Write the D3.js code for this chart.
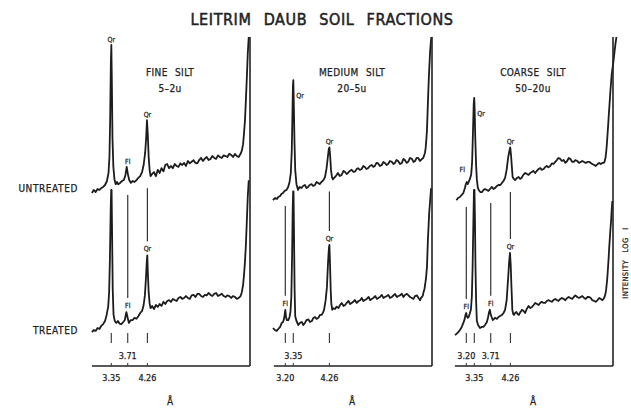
<!DOCTYPE html>
<html>
<head>
<meta charset="utf-8">
<script src="https://cdn.jsdelivr.net/npm/d3@7"></script>
<style>
  body { margin: 0; background: #fff; }
  svg { display: block; }
  text { font-family: "DejaVu Sans Condensed", "DejaVu Sans", sans-serif; fill: #222; stroke: #222; stroke-width: 0.25px; }
</style>
</head>
<body>
<div id="chart"></div>
<script>
// Leitrim daub soil fractions - X-ray diffraction traces, 2-theta (CuKa) vs intensity
const panelNames = ["FINE SILT", "MEDIUM SILT", "COARSE SILT"];
const panelSizes = ["5\u20132u", "20\u20135u", "50\u201320u"];
const rowNames = ["UNTREATED", "TREATED"];

// [2theta, relative intensity]
const fineUntreated = [[29.7,7.5],[29.4,9.4],[29.1,8.1],[28.8,10],[28.5,9.4],[28.2,10.6],[27.9,11.3],[27.6,12.5],[27.3,15],[27.05,20],[26.9,30],[26.78,55],[26.68,88],[26.6,100],[26.52,78],[26.42,42],[26.28,24],[26.1,16],[25.9,13],[25.7,14.4],[25.5,13],[25.2,13.8],[24.9,15],[24.6,15.6],[24.35,18.8],[24.15,23.8],[23.95,19],[23.75,15.6],[23.5,13.8],[23.2,15],[22.9,14.4],[22.6,15.6],[22.3,16.9],[22.0,18],[21.7,20.6],[21.45,25],[21.2,33],[21.05,42],[20.92,53],[20.8,45],[20.65,30],[20.5,22],[20.35,18],[20.1,19.4],[19.8,20.6],[19.5,18],[19.2,22],[18.9,20],[18.6,23],[18.3,21],[18.0,25],[17.7,25.6],[17.4,23],[17.1,24.4],[16.8,23],[16.5,25.6],[16.2,24.4],[15.9,23.8],[15.6,26],[15.3,25],[15.0,26.3],[14.7,24.4],[14.4,27.5],[14.1,26],[13.8,27],[13.5,28],[13.2,26.3],[12.9,26],[12.6,28.1],[12.3,29.4],[12.0,27.5],[11.7,29],[11.4,30],[11.1,28.1],[10.8,28.8],[10.5,30.6],[10.2,29.4],[9.9,28.8],[9.6,31],[9.3,30],[9.0,29.4],[8.7,31],[8.4,30.6],[8.1,30],[7.8,32],[7.5,31.3],[7.2,30],[6.9,31.9],[6.6,30.6],[6.3,30],[6.0,32],[5.8,34],[5.6,38],[5.45,45],[5.3,53],[5.15,66],[5.0,80],[4.85,95],[4.7,105]];
const fineTreated = [[29.7,8],[29.4,9.4],[29.1,8.8],[28.8,10.6],[28.5,10],[28.2,12],[27.9,13.1],[27.6,15],[27.35,18.8],[27.1,24],[26.95,33],[26.82,55],[26.7,85],[26.62,97],[26.56,97],[26.48,70],[26.38,35],[26.25,19],[26.05,15],[25.8,13.8],[25.55,15],[25.3,13.4],[25.0,13],[24.7,14.4],[24.45,15.6],[24.2,20.6],[24.0,17],[23.8,13.8],[23.5,15.6],[23.2,15.6],[22.9,17],[22.6,16.4],[22.3,18],[22.0,20],[21.7,21.3],[21.45,25],[21.25,31],[21.08,42],[20.95,52],[20.87,56],[20.78,45],[20.65,33],[20.5,26],[20.35,23],[20.1,24.4],[19.8,22.5],[19.5,25],[19.2,23.8],[18.9,25.6],[18.6,24.4],[18.3,27],[18.0,25.6],[17.7,27.5],[17.4,28],[17.1,26.9],[16.8,28.8],[16.5,28.1],[16.2,27.5],[15.9,29.4],[15.6,30],[15.3,28.8],[15.0,29.4],[14.7,30.6],[14.4,29.4],[14.1,28.8],[13.8,31],[13.5,31.3],[13.2,30],[12.9,31.9],[12.6,32],[12.3,30.6],[12.0,30],[11.7,31.3],[11.4,31],[11.1,32.5],[10.8,31.3],[10.5,30.6],[10.2,32],[9.9,32.5],[9.6,30.6],[9.3,31.3],[9.0,32],[8.7,30.6],[8.4,30],[8.1,31],[7.8,30.6],[7.5,29.4],[7.2,30.6],[6.9,30],[6.6,28.8],[6.3,29.4],[6.0,30.6],[5.8,33],[5.6,37.5],[5.45,44],[5.3,52],[5.15,63],[5.0,78],[4.85,93],[4.7,103]];
const mediumUntreated = [[29.85,3],[29.5,4.4],[29.2,3.8],[29.0,5],[28.7,5.6],[28.5,6.9],[28.25,7.5],[28.0,8.8],[27.7,9.4],[27.45,11],[27.2,14.4],[27.0,20],[26.85,34],[26.75,55],[26.66,75],[26.6,78],[26.52,62],[26.42,40],[26.3,22],[26.1,13],[25.85,9.4],[25.6,11.3],[25.3,10.6],[25.05,11.9],[24.75,12.5],[24.5,10.6],[24.25,11.3],[24.0,12.5],[23.7,13],[23.45,11.9],[23.15,12.5],[22.9,14.4],[22.65,13.8],[22.4,13.1],[22.1,14.4],[21.8,15.6],[21.55,17.5],[21.3,23],[21.1,30],[20.95,35],[20.85,36],[20.72,30],[20.6,22],[20.45,17.5],[20.3,16],[20.1,16.9],[19.95,17.5],[19.7,18.8],[19.5,20],[19.2,18.1],[18.9,18.8],[18.6,21.3],[18.35,20.6],[18.1,19.4],[17.9,20],[17.6,21.3],[17.3,22],[17.0,20.6],[16.75,21],[16.5,22.5],[16.3,23],[16.0,21.9],[15.7,22.5],[15.45,24.4],[15.2,23.8],[14.95,22.5],[14.7,23],[14.4,24.4],[14.1,25],[13.85,23.8],[13.6,24.4],[13.35,26.3],[13.1,26],[12.8,24.4],[12.5,25],[12.25,26.9],[12.0,26.3],[11.75,25],[11.5,25.6],[11.2,27.5],[10.9,27],[10.65,25.6],[10.4,26.3],[10.15,28.1],[9.9,27.5],[9.6,25.6],[9.3,26.3],[9.05,28.8],[8.8,28],[8.55,26.3],[8.3,27],[8.0,29.4],[7.7,28.8],[7.45,26.9],[7.2,27.5],[6.95,29.4],[6.7,29.4],[6.4,27.5],[6.1,28.8],[5.9,29.4],[5.75,31],[5.6,33],[5.5,36],[5.4,41],[5.3,47],[5.15,64],[5.05,75],[4.95,84],[4.8,96],[4.7,101],[4.6,105]];
const mediumTreated = [[29.85,10.6],[29.55,9.4],[29.25,8.8],[29.0,10],[28.7,11.3],[28.45,13.8],[28.25,14.4],[28.1,16],[27.98,19],[27.88,22],[27.78,18],[27.65,15.6],[27.4,15.6],[27.2,17.5],[27.05,21],[26.92,30],[26.8,55],[26.7,85],[26.63,96],[26.57,96],[26.5,72],[26.4,35],[26.3,18],[26.1,15],[25.8,12.5],[25.55,13.8],[25.25,14.4],[25.0,12.5],[24.75,13.8],[24.5,15.6],[24.2,16],[23.95,14.4],[23.65,15],[23.4,16.9],[23.15,17.5],[22.9,16.3],[22.6,17],[22.35,18.8],[22.1,18.8],[21.9,20],[21.7,22],[21.45,28],[21.25,36],[21.05,53],[20.92,61],[20.85,62.5],[20.75,50],[20.65,35],[20.55,26],[20.4,22],[20.2,23],[19.95,22.5],[19.7,24],[19.4,23.1],[19.15,25],[18.9,26.3],[18.6,24.4],[18.35,25],[18.1,26.3],[17.8,27.5],[17.55,25.6],[17.3,26.3],[17.05,27],[16.8,28.1],[16.5,26.3],[16.2,27.5],[15.95,28],[15.7,29.4],[15.45,27.5],[15.2,28.1],[14.9,28.8],[14.6,30],[14.35,28],[14.1,28.8],[13.85,29.4],[13.55,30.6],[13.3,28.8],[13.05,29.4],[12.8,30],[12.5,31.3],[12.25,29.4],[12.0,30],[11.7,30.6],[11.45,31.3],[11.2,29.4],[10.9,30],[10.65,31],[10.4,31.9],[10.1,30],[9.85,30.6],[9.6,31],[9.3,32],[9.05,30],[8.8,31.3],[8.5,32],[8.25,31],[8.0,30],[7.7,29.4],[7.45,28.8],[7.2,30.6],[6.9,31],[6.65,29.4],[6.4,28],[6.25,29.4],[6.1,30],[5.95,31],[5.85,33],[5.7,35],[5.6,37.5],[5.45,42],[5.3,49],[5.15,66],[5.05,74],[4.95,82.5],[4.8,90],[4.65,98]];
const coarseUntreated = [[29.45,3],[29.2,4.4],[28.9,5],[28.6,6.3],[28.35,7.5],[28.1,10.6],[27.95,13.1],[27.8,14.4],[27.65,13.1],[27.5,14.4],[27.3,16.3],[27.1,19],[26.95,27],[26.82,45],[26.7,63],[26.62,67],[26.55,60],[26.45,42],[26.32,25],[26.2,16],[26.05,11],[25.9,9.4],[25.65,8.1],[25.4,8],[25.15,9.4],[24.9,10],[24.6,9.4],[24.35,8.8],[24.1,10],[23.8,11.3],[23.55,10],[23.3,10.6],[23.0,11.9],[22.75,12.5],[22.45,12.5],[22.2,13.8],[21.95,15],[21.7,17],[21.45,22],[21.2,30],[21.0,34],[20.88,36],[20.75,31],[20.62,24],[20.5,17.5],[20.3,16.3],[20.1,15.6],[19.8,16.9],[19.55,17.5],[19.3,16.3],[19.05,17],[18.8,18.8],[18.5,20],[18.2,19.4],[17.95,18.8],[17.7,20],[17.45,20.6],[17.2,21.3],[16.9,20],[16.65,21.3],[16.35,22.5],[16.1,23.1],[15.85,22],[15.55,22.5],[15.3,23.8],[15.05,24.4],[14.8,23.5],[14.5,24.4],[14.25,26],[14.0,25.6],[13.7,27],[13.45,28.1],[13.2,29.4],[12.9,28.8],[12.65,27.5],[12.35,28.1],[12.1,26.3],[11.8,27.5],[11.55,29.4],[11.3,28.8],[11.0,27],[10.75,26.9],[10.5,28],[10.2,27.5],[9.9,26.3],[9.65,26.9],[9.4,27.5],[9.1,26.9],[8.85,26.3],[8.55,26.9],[8.3,27],[8.05,26.3],[7.8,25.6],[7.5,25],[7.25,24.4],[6.95,25.6],[6.7,26.3],[6.45,25.6],[6.2,26.3],[6.0,26.3],[5.85,27],[5.7,29.4],[5.6,32.5],[5.5,37],[5.4,42.5],[5.25,51],[5.15,57.5],[5.0,66],[4.9,72],[4.7,82],[4.45,89],[4.25,96],[4.1,101],[3.95,105]];
const coarseTreated = [[29.7,6.3],[29.45,6.9],[29.15,8],[28.9,9.4],[28.6,11.3],[28.35,13.8],[28.15,16],[28.0,19],[27.9,20],[27.8,18.1],[27.65,17],[27.5,17.5],[27.35,19.4],[27.15,22],[27.0,30],[26.88,48],[26.76,75],[26.66,97],[26.58,97],[26.5,78],[26.42,50],[26.32,28],[26.2,15],[26.0,12.5],[25.7,10.6],[25.45,11.3],[25.15,11.3],[24.9,12.5],[24.6,14.4],[24.4,17.5],[24.25,20.6],[24.12,22],[24.0,19.4],[23.85,17.5],[23.65,15.6],[23.45,16.3],[23.3,17],[23.0,16.3],[22.75,17.5],[22.5,18.1],[22.2,18.8],[21.95,20],[21.7,22],[21.45,28],[21.2,42.5],[21.05,52],[20.92,57.5],[20.8,50],[20.7,38],[20.6,28],[20.55,22],[20.4,19.4],[20.3,18.8],[20.1,20],[19.9,20.6],[19.7,19.4],[19.5,18.8],[19.25,20.6],[19.0,22],[18.75,21.3],[18.5,20],[18.25,22.5],[17.95,24.4],[17.7,23.1],[17.4,23.8],[17.15,25],[16.9,26.3],[16.6,25.6],[16.35,25],[16.1,26.3],[15.85,27],[15.55,26.3],[15.3,26.3],[15.05,27.5],[14.8,28],[14.5,27.5],[14.25,27],[14.0,28.1],[13.7,28.8],[13.45,28.1],[13.2,27.5],[12.9,28.8],[12.65,29.4],[12.35,28.8],[12.1,28],[11.8,29.4],[11.55,30],[11.3,29.4],[11.0,28.8],[10.75,30],[10.5,31],[10.2,30],[9.9,29.4],[9.65,30],[9.4,30.6],[9.1,29.4],[8.85,28.8],[8.55,30],[8.3,30],[8.05,29.4],[7.8,28],[7.5,27.5],[7.25,27],[6.95,28.1],[6.7,29.4],[6.45,28.8],[6.2,28],[6.0,28.8],[5.85,30],[5.7,32],[5.6,34.4],[5.45,40],[5.35,45],[5.2,54],[5.1,61],[4.95,70],[4.8,78],[4.7,85],[4.6,90]];

// peak labels (d-spacing in angstrom)
const untreatedNotes = [
  [{d: 3.35, t: "Qr", at: "top"}, {d: 3.71, t: "Fl", at: "top"}, {d: 4.26, t: "Qr", at: "top"}],
  [{d: 3.35, t: "Qr", at: "right"}, {d: 4.26, t: "Qr", at: "top"}],
  [{d: 3.20, t: "Fl", at: "left"}, {d: 3.35, t: "Qr", at: "right"}, {d: 4.26, t: "Qr", at: "top"}]
];
const treatedNotes = [
  [{d: 3.71, t: "Fl"}, {d: 4.26, t: "Qr"}],
  [{d: 3.20, t: "Fl"}, {d: 4.26, t: "Qr"}],
  [{d: 3.20, t: "Fl"}, {d: 3.71, t: "Fl"}, {d: 4.26, t: "Qr"}]
];
const peakTicks = [[3.35, 3.71, 4.26], [3.20, 3.35, 4.26], [3.20, 3.35, 3.71, 4.26]];
const upperLabels = [["3.71"], ["3.35"], ["3.20", "3.71"]];
const axisLabels = [["3.35", "4.26"], ["3.20", "4.26"], ["3.35", "4.26"]];

const traces = [
  [fineUntreated, fineTreated],
  [mediumUntreated, mediumTreated],
  [coarseUntreated, coarseTreated]
];

const W = 631, H = 408;
const panelLeft = [90, 272, 453];
const panelW = 160;
const topY = 37, axisY = 366;

// Bragg's law, CuKa
const twoTheta = d => 2 * Math.asin(1.5418 / (2 * d)) * 180 / Math.PI;

const yU = d3.scaleLinear().domain([0, 100]).range([205, 45]);
const yT = d3.scaleLinear().domain([0, 100]).range([345, 185]);

const peakAt = (tr, th) => d3.max(tr.filter(p => Math.abs(p[0] - th) < 0.35), p => p[1]);
const baseAt = (tr, th) => d3.min(tr.filter(p => Math.abs(p[0] - th) < 0.8), p => p[1]);

const svg = d3.select('#chart').append('svg').attr('width', W).attr('height', H);

svg.append('text')
  .attr('x', 322).attr('y', 25)
  .attr('text-anchor', 'middle')
  .style('font-size', '16px')
  .style('letter-spacing', '0.6px')
  .style('word-spacing', '7px')
  .style('stroke-width', 0.5)
  .text('LEITRIM DAUB SOIL FRACTIONS');

svg.selectAll('text.row')
  .data(rowNames).enter().append('text')
  .attr('class', 'row')
  .attr('x', 78)
  .attr('y', (d, i) => i === 0 ? 192 : 334)
  .attr('text-anchor', 'end')
  .style('font-size', '10px')
  .style('letter-spacing', '0.6px')
  .text(d => d);

svg.append('text')
  .attr('transform', 'translate(628,263) rotate(-90)')
  .attr('text-anchor', 'middle')
  .style('font-size', '7.5px')
  .style('letter-spacing', '0.4px')
  .style('word-spacing', '5px')
  .text('INTENSITY  LOG  I');

const line = d3.line();

panelNames.forEach((name, i) => {
  const x = d3.scaleLinear().domain([30, 4.5]).range([panelLeft[i], panelLeft[i] + panelW]);
  const [un, tr] = traces[i];
  const g = svg.append('g');
  const cx = panelLeft[i] + panelW / 2;

  g.append('text').attr('x', cx).attr('y', 76).attr('text-anchor', 'middle')
    .style('font-size', '10px').style('letter-spacing', '0.4px').style('word-spacing', '4px').text(name);
  g.append('text').attr('x', cx).attr('y', 92).attr('text-anchor', 'middle')
    .style('font-size', '10px').style('letter-spacing', '0.4px').text(panelSizes[i]);

  // traces
  g.selectAll('path.trace')
    .data([[un, yU], [tr, yT]]).enter().append('path')
    .attr('class', 'trace')
    .attr('d', d => line(d[0].map(p => [x(p[0]), d[1](p[1])])))
    .attr('fill', 'none')
    .attr('stroke', '#1c1c1c')
    .attr('stroke-width', 1.8)
    .attr('stroke-linejoin', 'round');

  // right edge + axis
  g.append('line')
    .attr('x1', x(4.5)).attr('x2', x(4.5)).attr('y1', topY).attr('y2', axisY)
    .attr('stroke', '#222').attr('stroke-width', 1.6);
  g.append('line')
    .attr('x1', x(29.7)).attr('x2', x(4.5)).attr('y1', axisY).attr('y2', axisY)
    .attr('stroke', '#222').attr('stroke-width', 1.4);

  // untreated peak labels
  untreatedNotes[i].forEach(n => {
    const th = twoTheta(n.d);
    const py = yU(peakAt(un, th));
    let tx = x(th), ty = py - 3, anchor = 'middle';
    if (n.at === 'right') { tx = x(th) + 3; ty = py + 18; anchor = 'start'; }
    if (n.at === 'left') { tx = x(th) - 4; ty = py - 10; }
    g.append('text').attr('x', tx).attr('y', ty).attr('text-anchor', anchor)
      .style('font-size', '7px').text(n.t);
  });

  // treated peak labels and connector lines
  treatedNotes[i].forEach(n => {
    const th = twoTheta(n.d);
    const py = yT(peakAt(tr, th));
    g.append('line')
      .attr('x1', x(th)).attr('x2', x(th))
      .attr('y1', yU(baseAt(un, th)) + 12).attr('y2', py - 14)
      .attr('stroke', '#333').attr('stroke-width', 1.2);
    g.append('text').attr('x', x(th)).attr('y', py - 4).attr('text-anchor', 'middle')
      .style('font-size', '7px').text(n.t);
  });

  // ticks under treated trace and on axis
  g.selectAll('line.pk')
    .data(peakTicks[i]).enter().append('line')
    .attr('class', 'pk')
    .attr('x1', d => x(twoTheta(d))).attr('x2', d => x(twoTheta(d)))
    .attr('y1', 333).attr('y2', 343)
    .attr('stroke', '#333').attr('stroke-width', 1.1);
  g.selectAll('line.ax')
    .data(peakTicks[i]).enter().append('line')
    .attr('class', 'ax')
    .attr('x1', d => x(twoTheta(d))).attr('x2', d => x(twoTheta(d)))
    .attr('y1', axisY - 3).attr('y2', axisY)
    .attr('stroke', '#333').attr('stroke-width', 1);

  g.selectAll('text.up')
    .data(upperLabels[i]).enter().append('text')
    .attr('class', 'up')
    .attr('x', d => x(twoTheta(+d))).attr('y', 359)
    .attr('text-anchor', 'middle')
    .style('font-size', '9px')
    .text(d => d);
  g.selectAll('text.axl')
    .data(axisLabels[i]).enter().append('text')
    .attr('class', 'axl')
    .attr('x', d => x(twoTheta(+d))).attr('y', 381)
    .attr('text-anchor', 'middle')
    .style('font-size', '9px')
    .text(d => d);

  g.append('text').attr('x', cx).attr('y', 405).attr('text-anchor', 'middle')
    .style('font-size', '10px').text('\u00c5');
});
</script>
</body>
</html>
